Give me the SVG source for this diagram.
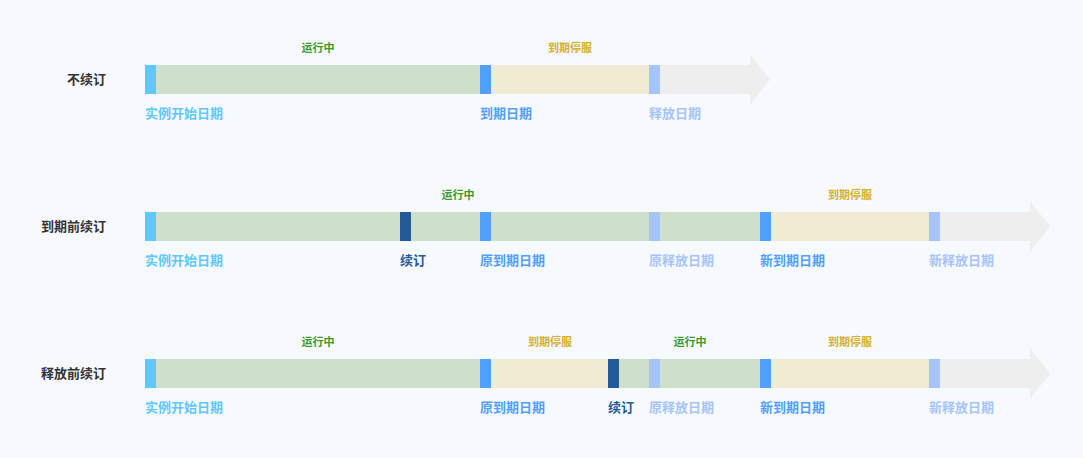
<svg xmlns="http://www.w3.org/2000/svg" width="1083" height="458" viewBox="0 0 1083 458">
<style>
text{font-family:"Liberation Sans","Noto Sans CJK SC",sans-serif;font-weight:bold}
.row{font-size:13px;fill:#333;text-anchor:end}
.st{font-size:11px}
.run{fill:#3a9a2a}.stop{fill:#d4b030}
.lb{font-size:13px}
.g{fill:#cee0c9}.b{fill:#f1ebd3}.gr{fill:#eeeeee}
.ms{fill:#5ec8ff}.me{fill:#4fa0ff}.mr{fill:#a6c4fc}.mn{fill:#235a9c}
</style>
<rect width="1083" height="458" fill="#f6f9fe"/>
<g id="row1">
<text class="row" x="106" y="84">不续订</text>
<polygon class="gr" points="660,65 750,65 750,54 770,79.5 750,105 750,94 660,94"/>
<rect class="g" x="156" y="65" width="324" height="29"/>
<rect class="b" x="491" y="65" width="158" height="29"/>
<rect class="ms" x="145" y="65" width="11" height="29"/>
<rect class="me" x="480" y="65" width="11" height="29"/>
<rect class="mr" x="649" y="65" width="11" height="29"/>
<text class="st run" x="318" y="52" text-anchor="middle">运行中</text>
<text class="st stop" x="570" y="52" text-anchor="middle">到期停服</text>
<text class="lb" x="145" y="118" fill="#5ec8ff">实例开始日期</text>
<text class="lb" x="480" y="118" fill="#4fa0ff">到期日期</text>
<text class="lb" x="649" y="118" fill="#a6c4fc">释放日期</text>
</g>
<g id="row2">
<text class="row" x="106" y="231">到期前续订</text>
<polygon class="gr" points="940,212 1030,212 1030,201 1050,226.5 1030,252 1030,241 940,241"/>
<rect class="g" x="156" y="212" width="604" height="29"/>
<rect class="b" x="771" y="212" width="158" height="29"/>
<rect class="ms" x="145" y="212" width="11" height="29"/>
<rect class="mn" x="400" y="212" width="11" height="29"/>
<rect class="me" x="480" y="212" width="11" height="29"/>
<rect class="mr" x="649" y="212" width="11" height="29"/>
<rect class="me" x="760" y="212" width="11" height="29"/>
<rect class="mr" x="929" y="212" width="11" height="29"/>
<text class="st run" x="458" y="199" text-anchor="middle">运行中</text>
<text class="st stop" x="850" y="199" text-anchor="middle">到期停服</text>
<text class="lb" x="145" y="265" fill="#5ec8ff">实例开始日期</text>
<text class="lb" x="400" y="265" fill="#235a9c">续订</text>
<text class="lb" x="480" y="265" fill="#4fa0ff">原到期日期</text>
<text class="lb" x="649" y="265" fill="#a6c4fc">原释放日期</text>
<text class="lb" x="760" y="265" fill="#4fa0ff">新到期日期</text>
<text class="lb" x="929" y="265" fill="#a6c4fc">新释放日期</text>
</g>
<g id="row3">
<text class="row" x="106" y="378">释放前续订</text>
<polygon class="gr" points="940,359 1030,359 1030,348 1050,373.5 1030,399 1030,388 940,388"/>
<rect class="g" x="156" y="359" width="324" height="29"/>
<rect class="b" x="491" y="359" width="117" height="29"/>
<rect class="g" x="619" y="359" width="141" height="29"/>
<rect class="b" x="771" y="359" width="158" height="29"/>
<rect class="ms" x="145" y="359" width="11" height="29"/>
<rect class="me" x="480" y="359" width="11" height="29"/>
<rect class="mn" x="608" y="359" width="11" height="29"/>
<rect class="mr" x="649" y="359" width="11" height="29"/>
<rect class="me" x="760" y="359" width="11" height="29"/>
<rect class="mr" x="929" y="359" width="11" height="29"/>
<text class="st run" x="318" y="346" text-anchor="middle">运行中</text>
<text class="st stop" x="550" y="346" text-anchor="middle">到期停服</text>
<text class="st run" x="690" y="346" text-anchor="middle">运行中</text>
<text class="st stop" x="850" y="346" text-anchor="middle">到期停服</text>
<text class="lb" x="145" y="412" fill="#5ec8ff">实例开始日期</text>
<text class="lb" x="480" y="412" fill="#4fa0ff">原到期日期</text>
<text class="lb" x="608" y="412" fill="#235a9c">续订</text>
<text class="lb" x="649" y="412" fill="#a6c4fc">原释放日期</text>
<text class="lb" x="760" y="412" fill="#4fa0ff">新到期日期</text>
<text class="lb" x="929" y="412" fill="#a6c4fc">新释放日期</text>
</g>
<g id="connectors"/>
</svg>
